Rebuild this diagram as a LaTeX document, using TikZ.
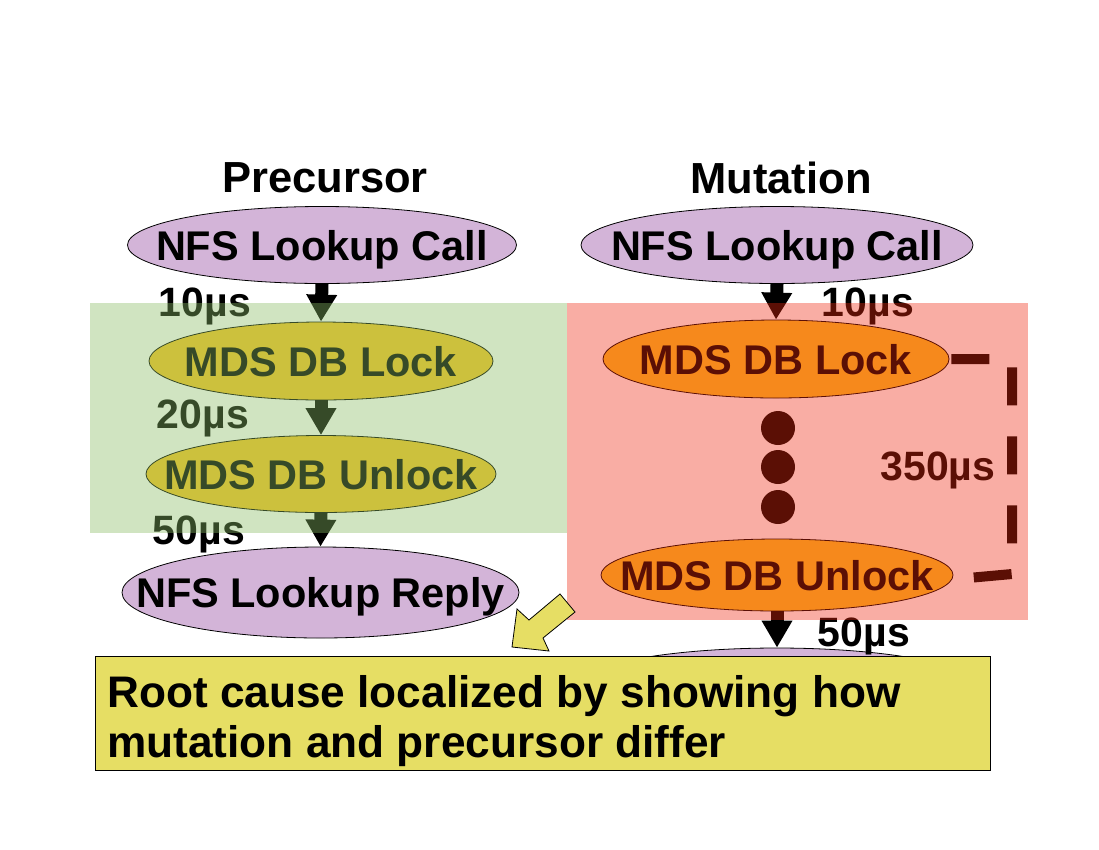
\documentclass[tikz,border=0pt]{standalone}
\usepackage{fontspec}
\setmainfont{Liberation Sans}
\usetikzlibrary{shapes.geometric,arrows.meta}
\definecolor{lav}{RGB}{211,180,216}
\definecolor{gold}{RGB}{250,197,36}
\definecolor{ovgreen}{RGB}{137,187,100}
\definecolor{ovred}{RGB}{240,40,15}
\definecolor{note}{RGB}{230,222,100}
\tikzset{
  big/.style={font=\fontsize{43.5}{50}\selectfont\bfseries},
  lbl/.style={font=\fontsize{41}{46}\selectfont\bfseries, inner sep=0pt, text depth=0pt},
  oval/.style={ellipse, draw=black, line width=0.8pt, inner sep=0pt},
  ovaltext/.style={font=\fontsize{41.5}{48}\selectfont\bfseries, inner sep=0pt, text depth=0pt},
  flow/.style={line width=13pt, -{Triangle[width=29pt,length=27pt]}},
  dot/.style={circle, fill=black, minimum size=34pt, inner sep=0pt},
}
\begin{document}
\begin{tikzpicture}[x=1pt,y=-1pt]
\useasboundingbox (0,0) rectangle (1099,849);
% headings
\node[big, inner sep=0pt] (hp) at (325,178) {Precursor};
\node[big, inner sep=0pt] (hm) at (781,178) {Mutation};
% left column
\node[oval, fill=lav, minimum width=389pt, minimum height=77pt, label={[ovaltext]center:NFS Lookup Call}] (l1) at (322,245) {};
\node[oval, fill=gold, minimum width=344pt, minimum height=78pt, label={[ovaltext]center:MDS DB Lock}] (l2) at (321,361) {};
\node[oval, fill=gold, minimum width=350pt, minimum height=77pt, label={[ovaltext]center:MDS DB Unlock}] (l3) at (321,474) {};
\node[oval, fill=lav, minimum width=397pt, minimum height=91pt, label={[ovaltext]center:NFS Lookup Reply}] (l4) at (320.5,592.5) {};
\draw[flow] (l1.south) -- (l2.north);
\draw[flow] (l2.south) -- (l3.north);
\draw[flow] (l3.south) -- (l4.north);
\node[lbl] (t1) at (205,302) {10µs};
\node[lbl] (t2) at (203,414) {20µs};
\node[lbl] (t3) at (199,530) {50µs};
% right column
\node[oval, fill=lav, minimum width=392pt, minimum height=77pt, label={[ovaltext]center:NFS Lookup Call}] (r1) at (777,245) {};
\node[oval, fill=gold, minimum width=346pt, minimum height=78pt, label={[ovaltext]center:MDS DB Lock}] (r2) at (776,359) {};
\node[dot] (d1) at (778,428) {};
\node[dot] (d2) at (778,467) {};
\node[dot] (d3) at (778,507) {};
\node[oval, fill=gold, minimum width=352pt, minimum height=72pt, label={[ovaltext]center:MDS DB Unlock}] (r3) at (777,575) {};
\node[oval, fill=lav, minimum width=400pt, minimum height=76pt] (r4) at (777,686) {};
\draw[flow] (r1.south) -- (r2.north);
\draw[flow] (r3.south) -- (r4.north);
\node[lbl] (u1) at (868,302) {10µs};
\node[lbl] (u2) at (938,466) {350µs};
\node[lbl] (u3) at (864,632) {50µs};
% bracket
\coordinate (bk) at (1012,574);
\coordinate (be) at (968,578);
\draw[line width=10pt, dash pattern=on 38pt off 31pt]
  ([xshift=2pt]r2.east) -| (bk) -- (be);
% overlays
\fill[ovgreen, fill opacity=0.4] (90,303) rectangle (567,533);
\fill[ovred, fill opacity=0.38] (567,303) rectangle (1028,620);
% note box
\node[draw=black, line width=0.8pt, fill=note, minimum width=895pt, minimum height=114pt, inner sep=0pt] (box) at (542.5,713) {};
\node[anchor=base west, align=left, inner sep=0pt, font=\fontsize{44.2}{50}\selectfont\bfseries] (bt) at (107,757) {Root cause localized by showing how\\mutation and precursor differ};
% callout arrow
\draw[fill=note, line width=0.8pt, line join=miter]
  (512,647) -- (517,609) -- (529,620) -- (560,594) -- (575,612) -- (543,638) -- (549,651) -- cycle;
\end{tikzpicture}
\end{document}
